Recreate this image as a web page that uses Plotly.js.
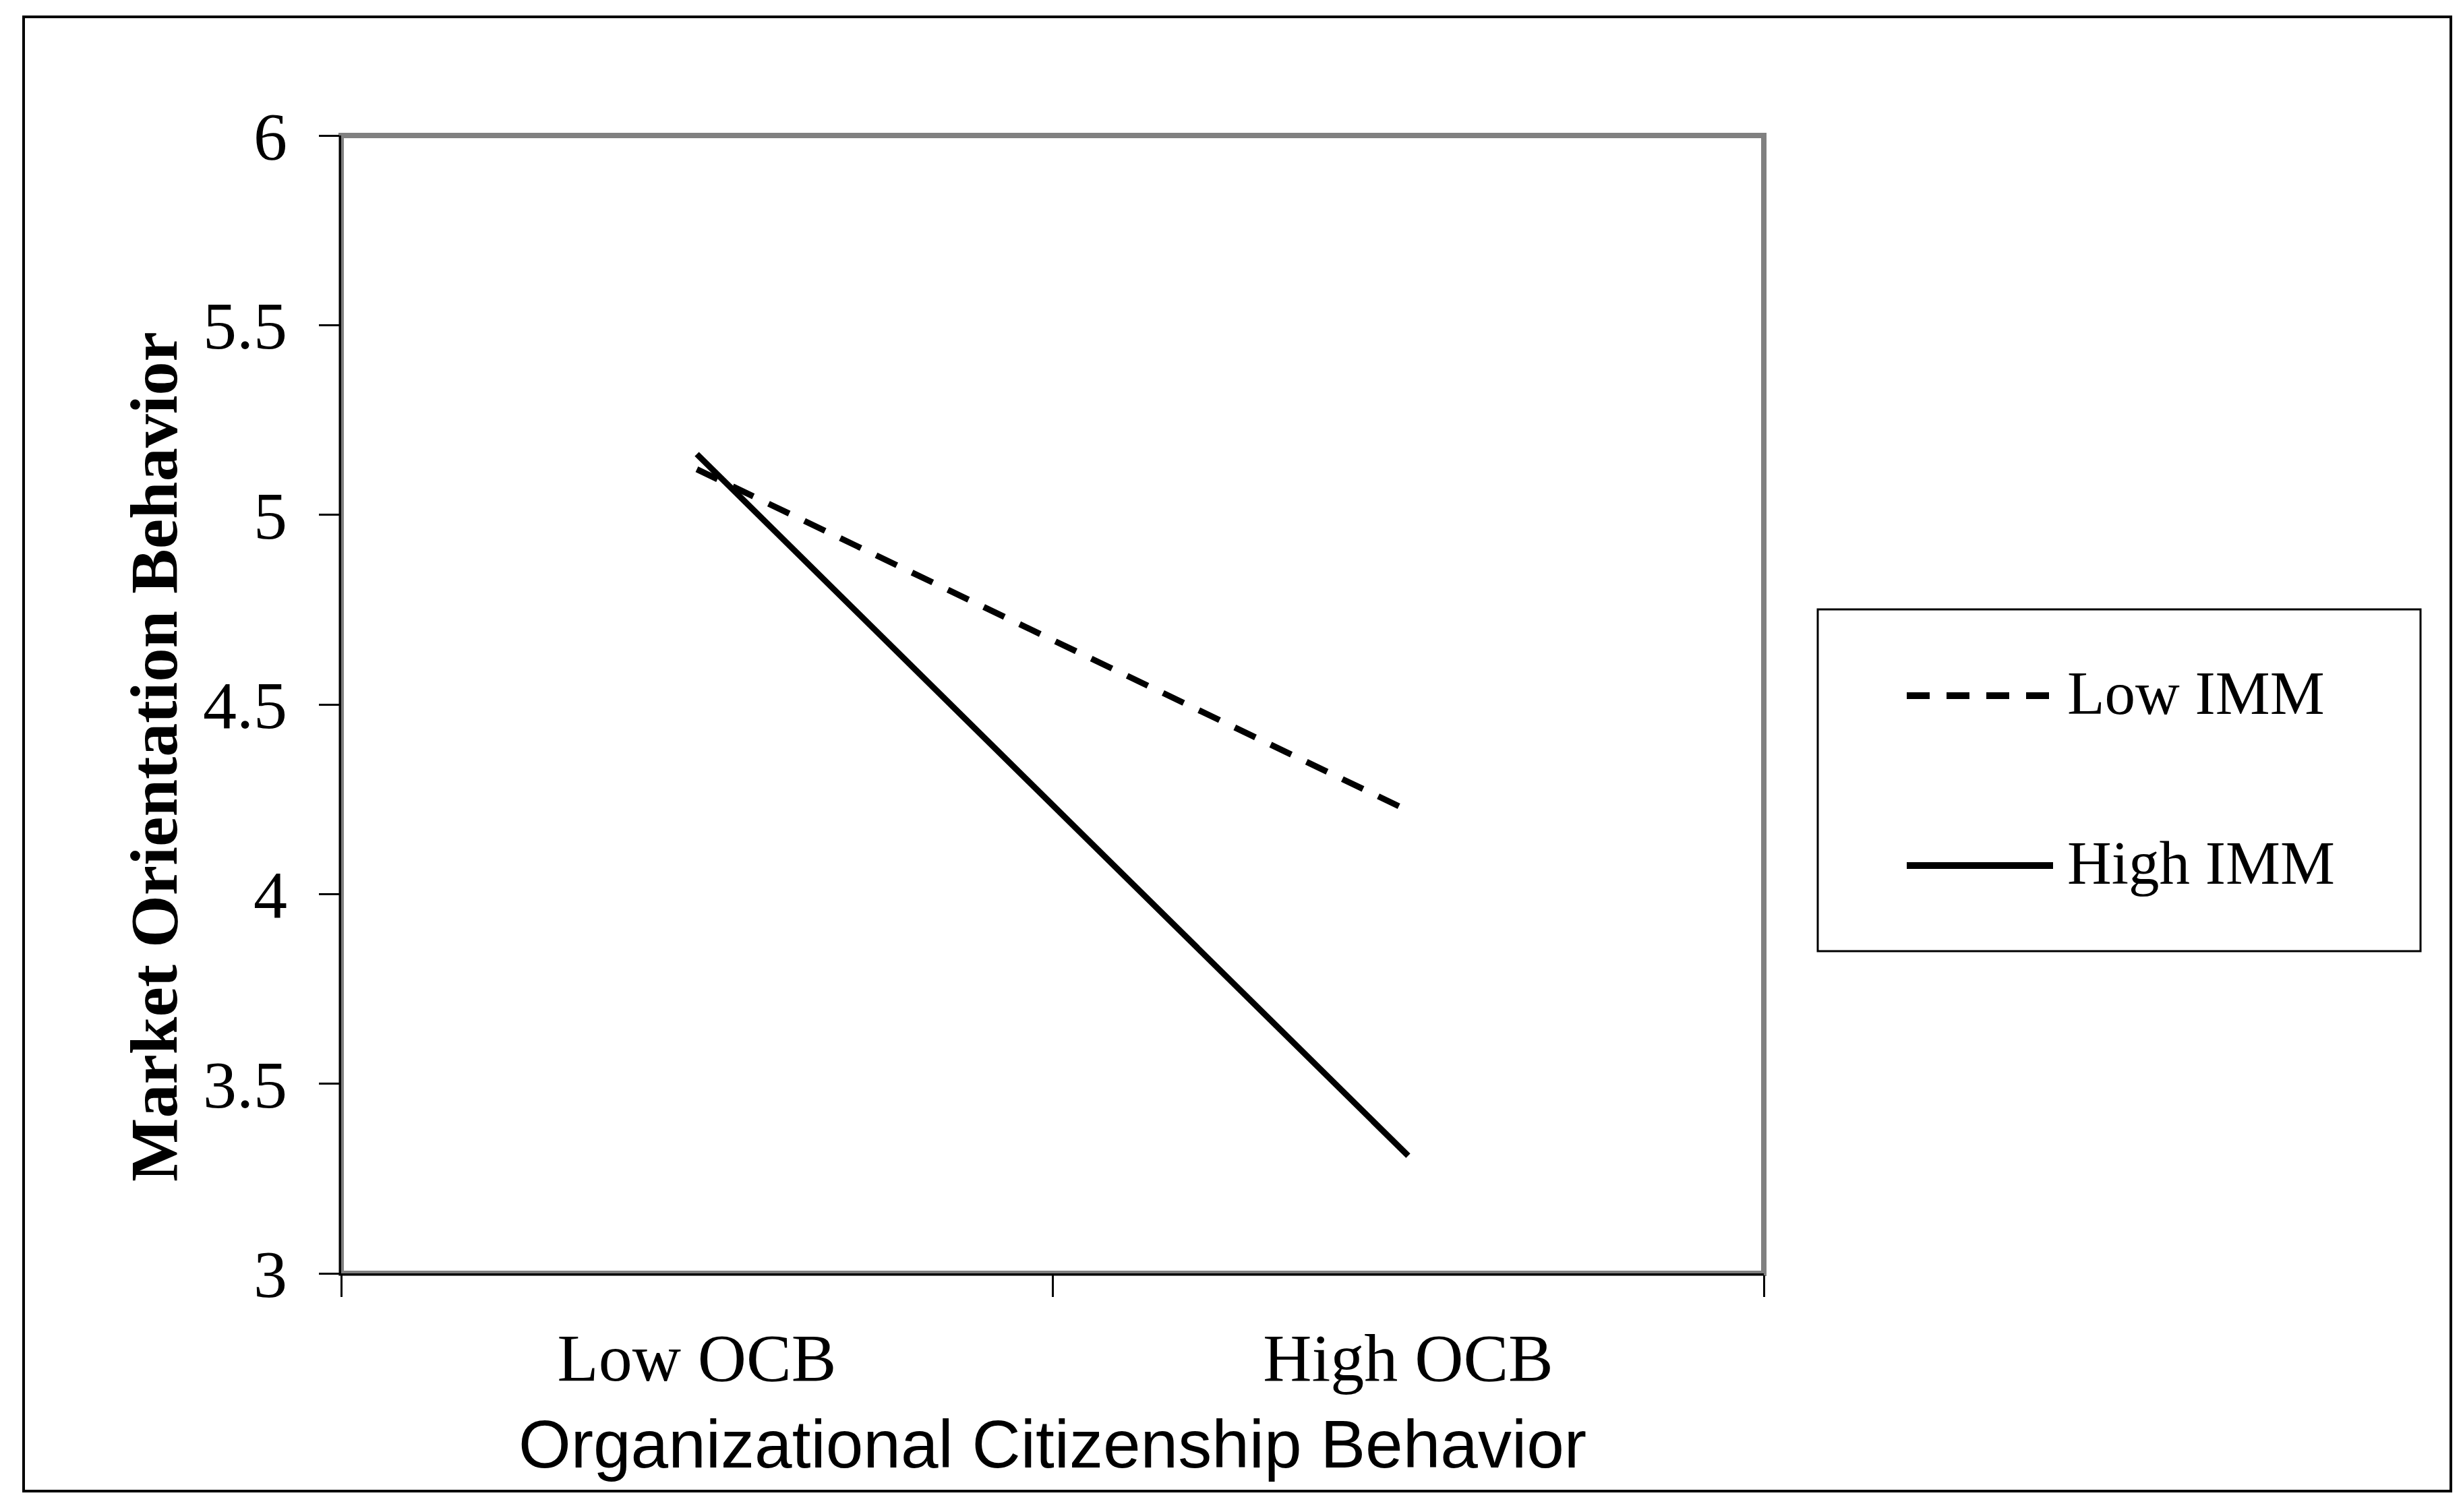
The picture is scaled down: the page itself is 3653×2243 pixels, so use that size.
<!DOCTYPE html>
<html><head><meta charset="utf-8">
<script src="https://cdn.plot.ly/plotly-3.0.1.min.js"></script>
<style>html,body{margin:0;padding:0;background:#fff;} #chart{width:3653px;height:2243px;}</style>
</head><body><div id="chart"></div>
<script>
// ---- data ----
const categories = ["Low OCB", "High OCB"];
const seriesNames = ["Low IMM", "High IMM"];
const lowIMM = [5.12, 4.22];
const highIMM = [5.16, 3.31];
const yTickValues = [3, 3.5, 4, 4.5, 5, 5.5, 6];
const yTickLabels = ["3", "3.5", "4", "4.5", "5", "5.5", "6"];
const xTitle = "Organizational Citizenship Behavior";
const yTitle = "Market Orientation Behavior";

// ---- layout geometry ----
const W = 3653, H = 2243;
const M = {l: 506, r: 1037, t: 201, b: 354};
const PW = W - M.l - M.r, PH = H - M.t - M.b;
const fx = px => (px - M.l) / PW;
const fy = py => (H - M.b - py) / PH;

const serif = "Liberation Serif, Times New Roman, serif";
const sans = "Liberation Sans, Arial, sans-serif";
const dashPattern = "34px,25px";
const lineStyles = [
  {color: "black", width: 9, dash: dashPattern},
  {color: "black", width: 9, dash: "solid"}
];
const seriesValues = [lowIMM, highIMM];

const traces = seriesNames.map((name, i) => ({
  type: "scatter", mode: "lines", name: name,
  x: categories, y: seriesValues[i],
  line: lineStyles[i], showlegend: false, hoverinfo: "skip"
}));

// custom legend (box, keys, labels) in paper coordinates
const legendKeyY = [1032, 1284];
const shapes = [
  // outer frame
  {type: "rect", xref: "paper", yref: "paper", x0: fx(35), x1: fx(3635), y0: fy(2212), y1: fy(25),
   line: {color: "black", width: 4}, fillcolor: "rgba(0,0,0,0)", layer: "below"},
  // plot area border (grey)
  {type: "rect", xref: "paper", yref: "paper", x0: 0, x1: 1, y0: 0, y1: 1,
   line: {color: "#808080", width: 8}, fillcolor: "rgba(0,0,0,0)", layer: "below"},
  // legend box
  {type: "rect", xref: "paper", yref: "paper", x0: fx(2696), x1: fx(3590), y0: fy(1411), y1: fy(904),
   line: {color: "black", width: 3}, fillcolor: "white", layer: "below"}
];
seriesNames.forEach((n, i) => {
  shapes.push({type: "line", xref: "paper", yref: "paper",
    x0: fx(2828), x1: fx(3045), y0: fy(legendKeyY[i]), y1: fy(legendKeyY[i]),
    line: {color: "black", width: 10, dash: lineStyles[i].dash}});
});
const annotations = seriesNames.map((n, i) => ({
  xref: "paper", yref: "paper", x: fx(3064), y: fy(legendKeyY[i] - 4),
  xanchor: "left", yanchor: "middle", showarrow: false, text: n,
  font: {family: serif, size: 91, color: "black"}
}));
// y-axis title (placed off-centre as in the original)
annotations.push({
  xref: "paper", yref: "paper", x: fx(228), y: fy(1123),
  xanchor: "center", yanchor: "middle", showarrow: false, textangle: -90,
  text: "<b>" + yTitle + "</b>",
  font: {family: serif, size: 100, color: "black"}
});

const layout = {
  width: W, height: H, margin: M,
  paper_bgcolor: "white", plot_bgcolor: "rgba(0,0,0,0)",
  showlegend: false,
  xaxis: {
    type: "category", categoryorder: "array", categoryarray: categories,
    range: [-0.5, 1.5], tickson: "boundaries",
    ticks: "outside", ticklen: 32, tickwidth: 3, tickcolor: "black",
    showline: true, linecolor: "black", linewidth: 3,
    showgrid: false, zeroline: false,
    tickfont: {family: serif, size: 100, color: "black"},
    ticklabelstandoff: 36,
    automargin: false,
    title: {text: xTitle, font: {family: sans, size: 100, color: "black"}, standoff: 38}
  },
  yaxis: {
    range: [3, 6], tickmode: "array", tickvals: yTickValues, ticktext: yTickLabels,
    ticks: "outside", ticklen: 30, tickwidth: 3, tickcolor: "black",
    showline: true, linecolor: "black", linewidth: 3,
    showgrid: false, zeroline: false,
    tickfont: {family: serif, size: 100, color: "black"},
    ticklabelstandoff: 27,
    automargin: false
  },
  shapes: shapes,
  annotations: annotations
};

Plotly.newPlot("chart", traces, layout, {staticPlot: true, displayModeBar: false});
</script>
</body></html>
